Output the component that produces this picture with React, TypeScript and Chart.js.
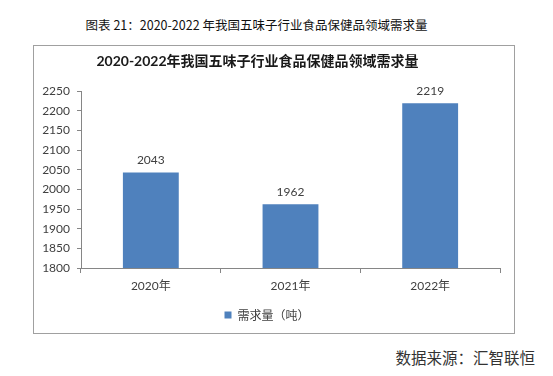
import React, { useEffect, useRef } from "react";
import { Chart, registerables } from "chart.js";

Chart.register(...registerables);

const categories = ["2020年", "2021年", "2022年"];
const demand = [2043, 1962, 2219];
const seriesName = "需求量（吨）";
const yMin = 1800;
const yMax = 2250;
const yStep = 50;
const captionText = "图表 21：2020-2022 年我国五味子行业食品保健品领域需求量";
const chartTitle = "2020-2022年我国五味子行业食品保健品领域需求量";
const sourceText = "数据来源：汇智联恒";

const FONT = "Lato, 'Noto Sans CJK SC', sans-serif";
const CJK = "'Noto Sans CJK SC', sans-serif";

const valueLabels = {
  id: "valueLabels",
  afterDatasetsDraw(chart: any) {
    const ctx = chart.ctx;
    ctx.save();
    ctx.font = `12px ${FONT}`;
    ctx.fillStyle = "#404040";
    ctx.textAlign = "center";
    ctx.textBaseline = "middle";
    chart.data.datasets.forEach((ds: any, di: number) => {
      const meta = chart.getDatasetMeta(di);
      meta.data.forEach((el: any, i: number) => {
        ctx.fillText(String(ds.data[i]), el.x, el.y - 12);
      });
    });
    ctx.restore();
  },
};

export default function App() {
  const ref = useRef<HTMLCanvasElement>(null);
  useEffect(() => {
    if (!ref.current) return;
    const chart = new Chart(ref.current, {
      type: "bar",
      data: {
        labels: categories,
        datasets: [
          {
            label: seriesName,
            data: demand,
            backgroundColor: "#4F81BD",
            borderWidth: 0,
            barPercentage: 0.4,
            categoryPercentage: 1,
          },
        ],
      },
      options: {
        animation: false,
        responsive: false,
        devicePixelRatio: 1,
        layout: { padding: { top: 45, right: 14, left: 0, bottom: 2 } },
        plugins: {
          title: { display: false },
          tooltip: { enabled: false },
          legend: {
            display: true,
            position: "bottom",
            labels: {
              boxWidth: 7,
              boxHeight: 7,
              padding: 10,
              color: "#404040",
              font: { size: 12, family: CJK },
            },
          },
        },
        scales: {
          x: {
            afterFit: (s: any) => {
              s.height = 31;
            },
            grid: {
              display: true,
              drawOnChartArea: false,
              drawTicks: true,
              tickLength: 5,
              color: "#868686",
              offset: true,
            },
            border: { display: true, color: "#868686", width: 1 },
            ticks: {
              color: "#404040",
              padding: 6,
              font: { size: 12, family: FONT },
            },
          },
          y: {
            min: yMin,
            max: yMax,
            afterFit: (s: any) => {
              s.width = 47;
            },
            grid: {
              display: true,
              drawOnChartArea: false,
              drawTicks: true,
              tickLength: 4,
              color: "#868686",
            },
            border: { display: true, color: "#868686", width: 1 },
            ticks: {
              stepSize: yStep,
              color: "#404040",
              padding: 7,
              font: { size: 12, family: FONT },
              callback: (v: any) => String(v),
            },
          },
        },
      },
      plugins: [valueLabels],
    });
    return () => chart.destroy();
  }, []);

  return (
    <div
      style={{
        position: "absolute",
        left: 0,
        top: 0,
        width: 553,
        height: 376,
        background: "#fff",
        overflow: "hidden",
      }}
    >
      <div
        style={{
          position: "absolute",
          left: 0,
          top: 17,
          width: 513,
          textAlign: "center",
          font: `12.5px ${CJK}`,
          lineHeight: "16px",
          color: "#111",
          whiteSpace: "nowrap",
        }}
      >
        {captionText}
      </div>
      <div
        style={{
          position: "absolute",
          left: 33,
          top: 45,
          width: 482,
          height: 289,
          boxSizing: "border-box",
          border: "1px solid #a0a0a0",
        }}
      />
      <canvas
        ref={ref}
        width={480}
        height={287}
        style={{ position: "absolute", left: 34, top: 46, width: 480, height: 287 }}
      />
      <div
        style={{
          position: "absolute",
          left: 0,
          top: 52,
          width: 515,
          textAlign: "center",
          font: `bold 14px ${FONT}`,
          lineHeight: "18px",
          color: "#1a1a1a",
          whiteSpace: "nowrap",
        }}
      >
        {chartTitle}
      </div>
      <div
        style={{
          position: "absolute",
          right: 18,
          top: 347,
          font: `15.5px ${CJK}`,
          lineHeight: "20px",
          color: "#333",
          whiteSpace: "nowrap",
        }}
      >
        {sourceText}
      </div>
    </div>
  );
}
